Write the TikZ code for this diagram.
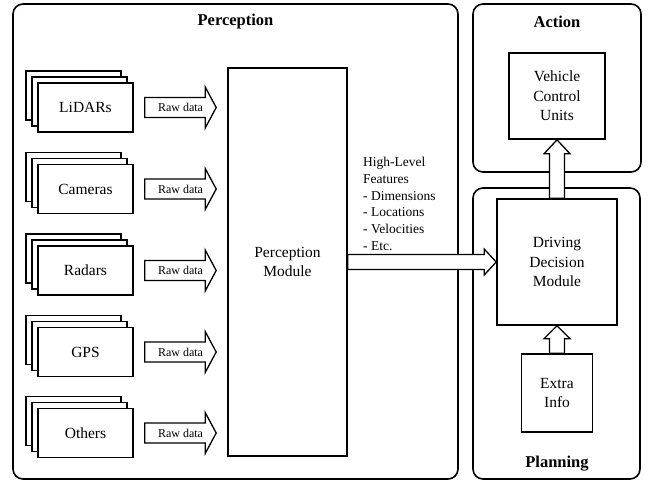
\documentclass[tikz,border=0pt]{standalone}
\usepackage{fontspec}
\setmainfont{Liberation Serif}
\usetikzlibrary{calc}
\tikzset{
  grp/.style={draw, line width=1.6pt, rounded corners=10pt},
  box/.style={draw, line width=1.6pt, fill=white, align=center, inner sep=0pt,
    font=\fontsize{15.5}{19.5}\selectfont},
  sbox/.style={box, minimum width=95pt, minimum height=49pt},
  blk/.style={draw, line width=1.3pt, fill=white, line join=miter},
  grptitle/.style={font=\bfseries\fontsize{16.5}{20}\selectfont},
  rawtxt/.style={font=\fontsize{12}{14}\selectfont, inner sep=0pt},
  feat/.style={align=left, inner sep=0pt, font=\fontsize{13.5}{16.8}\selectfont}
}
\newcommand{\HArrow}[6]{%
  \draw[#1] let \p1=#2, \p2=#3 in
    (\x1,\y1+#4) -- (\x2-#6,\y1+#4) -- (\x2-#6,\y1+#5) -- (\x2,\y1)
    -- (\x2-#6,\y1-#5) -- (\x2-#6,\y1-#4) -- (\x1,\y1-#4) -- cycle;}
\newcommand{\VArrow}[6]{%
  \draw[#1] let \p1=#2, \p2=#3 in
    (\x1-#4,\y1) -- (\x1-#4,\y2-#6) -- (\x1-#5,\y2-#6) -- (\x1,\y2)
    -- (\x1+#5,\y2-#6) -- (\x1+#4,\y2-#6) -- (\x1+#4,\y1) -- cycle;}
\newcommand{\Sensor}[3]{%
  \node[sbox] (#1-b) at (73.5,#3-12) {};
  \node[sbox] (#1-m) at (79.5,#3-6) {};
  \node[sbox] (#1) at (85.5,#3) {#2};}
\begin{document}
\begin{tikzpicture}[x=1pt,y=-1pt]
\useasboundingbox (0,0) rectangle (649,483);
% groups
\node[grp, minimum width=445pt, minimum height=475pt] (perc) at (235.5,241.5) {};
\node[grp, minimum width=168pt, minimum height=168pt] (act) at (557,88) {};
\node[grp, minimum width=167pt, minimum height=291pt] (plan) at (556.5,333.5) {};
\node[grptitle] (perct) at (235.5,22) {Perception};
\node[grptitle] (actt) at (557,22) {Action};
\node[grptitle] (plant) at (557,464) {Planning};
% modules
\node[box, minimum width=119pt, minimum height=388pt] (pm) at (287.5,262) {Perception\\Module};
\node[box, minimum width=96pt, minimum height=86pt] (vcu) at (557,96) {Vehicle\\Control\\Units};
\node[box, minimum width=120pt, minimum height=126pt] (ddm) at (557,262) {Driving\\Decision\\Module};
\node[box, minimum width=71pt, minimum height=78pt] (extra) at (557,393) {Extra\\Info};
% sensors
\Sensor{lidar}{LiDARs}{107.5}
\Sensor{cam}{Cameras}{189}
\Sensor{radar}{Radars}{270.5}
\Sensor{gps}{GPS}{352}
\Sensor{oth}{Others}{433}
% raw data arrows
\foreach \s/\r in {lidar/rawa, cam/rawb, radar/rawc, gps/rawd, oth/rawe}{
  \HArrow{blk}{([xshift=11pt]\s.east)}{([xshift=-11pt]\s.east -| pm.west)}{10pt}{20.5pt}{11pt}
  \node[rawtxt] (\r) at ($(\s.east)!0.5!(\s.east -| pm.west)$) {Raw data};
}
% big arrow perception -> decision
\HArrow{blk}{(pm.east)}{(ddm.west)}{7.5pt}{13pt}{12pt}
\node[feat, anchor=west] (hlf) at (363,204) {High-Level\\Features\\- Dimensions\\- Locations\\- Velocities\\- Etc.};
% vertical arrows
\VArrow{blk}{(ddm.north)}{(vcu.south)}{7.5pt}{13pt}{14pt}
\VArrow{blk}{(extra.north)}{(ddm.south)}{7.5pt}{13pt}{13pt}
\end{tikzpicture}
\end{document}
